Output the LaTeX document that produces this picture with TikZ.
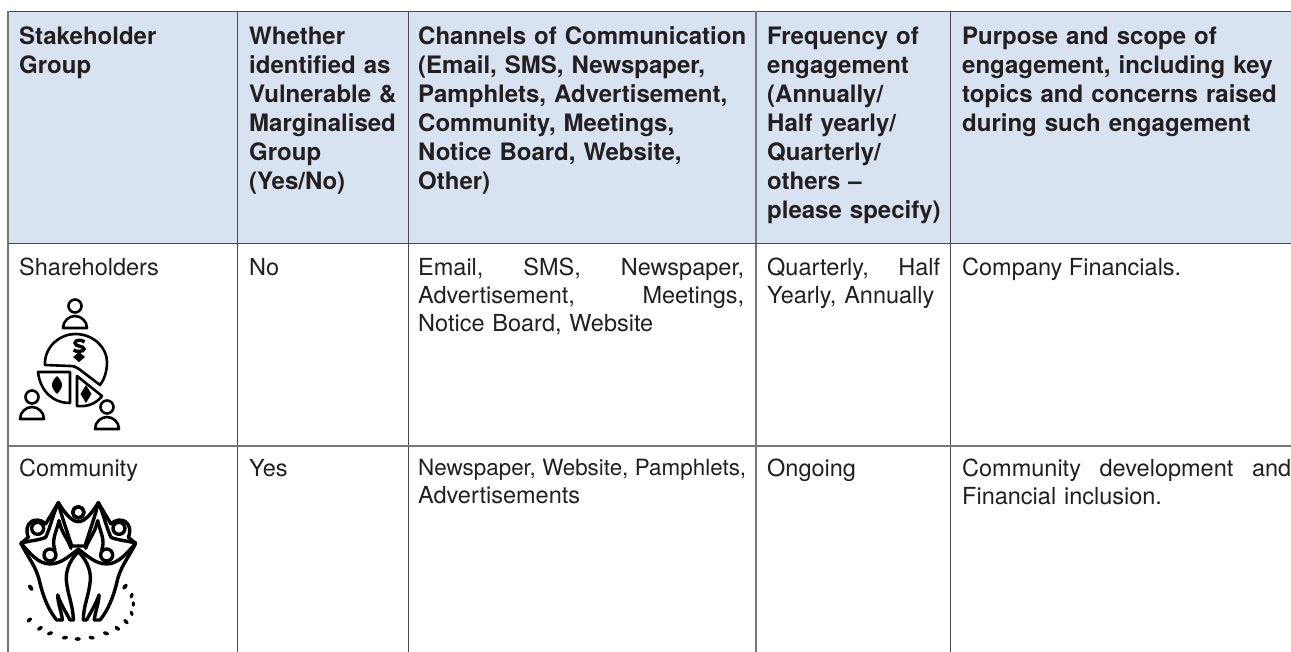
\documentclass[tikz,border=0pt]{standalone}
\usepackage{fontspec}
\setmainfont{TeX Gyre Heros}
\definecolor{hdr}{HTML}{D8E2F0}
\definecolor{ink}{HTML}{231F20}
\definecolor{ruled}{HTML}{4A4A4E}
\definecolor{ruleg}{HTML}{77777B}
\tikzset{
 x=1pt,y=-1pt,
 cell/.style={anchor=north west,inner sep=0pt,align=left,text=ink,font=\fontsize{23.5}{28}\selectfont},
 hd/.style={cell,font=\fontsize{24}{29}\selectfont\bfseries},
 rl/.style={draw=ruled,line width=0.9pt},
 rg/.style={draw=ruleg,line width=1.5pt},
 ic/.style={draw=black,line width=2.6pt,line cap=round,line join=round},
 icd/.style={fill=black}
}
\begin{document}
\begin{tikzpicture}
\useasboundingbox (0,0) rectangle (1291,652);
\fill[white] (0,0) rectangle (1291,652);
\fill[hdr] (8,11) rectangle (1291,243);
\draw[rl] (1291,11)--(8,11);
\draw[rg] (8,11)--(8,652);
\draw[rl] (237.5,11)--(237.5,652);
\draw[rl] (408,11)--(408,652);
\draw[rg] (756,11)--(756,652);
\draw[rl] (950,11)--(950,652);
\draw[rl] (8,243)--(1291,243);
\draw[rg] (8,446)--(1291,446);
\node[hd,text width=210pt] (h1) at (19,26.5) {Stakeholder\\Group};
\node[hd,text width=160pt] (h2) at (249,26.5) {Whether\\identified as\\Vulnerable \&\\Marginalised\\Group\\(Yes/No)};
\node[hd,text width=335pt] (h3) at (418,26.5) {Channels of Communication\\(Email, SMS, Newspaper,\\Pamphlets, Advertisement,\\Community, Meetings,\\Notice Board, Website,\\Other)};
\node[hd,text width=185pt] (h4) at (767,26.5) {Frequency of\\engagement\\(Annually/\\Half yearly/\\Quarterly/\\others --\\please specify)};
\node[hd,text width=329pt] (h5) at (962,26.5) {Purpose and scope of\\engagement, including key\\topics and concerns raised\\during such engagement};
\node[cell] (a1) at (19,258) {Shareholders};
\node[cell] (a2) at (249,258) {No};
\node[cell,text width=326pt] (a3) at (418,258) {Email,\hfill SMS,\hfill Newspaper,\\Advertisement,\hfill Meetings,\\Notice Board, Website};
\node[cell,text width=173pt] (a4) at (767,258) {Quarterly,\hfill Half\\Yearly, Annually};
\node[cell] (a5) at (962,258) {Company Financials.};
\node[cell] (b1) at (19,459) {Community};
\node[cell] (b2) at (249,459) {Yes};
\node[cell,text width=335pt] (b3) at (418,459) {\hbox to 328pt{\fontsize{22.4}{28}\selectfont Newspaper,\hfil Website,\hfil Pamphlets,}\\Advertisements};
\node[cell] (b4) at (767,459) {Ongoing};
\node[cell,text width=329pt] (b5) at (962,459) {Community\hfill development\hfill and\\Financial inclusion.};
% shareholders icon
\foreach \cx/\cy in {75/306,32/397,107/407}{
 \draw[ic] (\cx,\cy) circle (6.5);
 \draw[ic] (\cx-12,\cy+22) .. controls (\cx-12,\cy+15) and (\cx-6,\cy+10) .. (\cx,\cy+10) .. controls (\cx+6,\cy+10) and (\cx+12,\cy+15) .. (\cx+12,\cy+22) -- cycle;
}
\draw[ic] (45,365) .. controls (44,347) and (60,334) .. (75,334) .. controls (94,334) and (107,348) .. (107,362) .. controls (107,372) and (104,380) .. (100,385) -- (79,369) .. controls (76,367) and (74,366) .. (70,366) -- cycle;
\draw[ic] (38,372) -- (70,372) -- (70,403) .. controls (52,403) and (40,390) .. (38,372) -- cycle;
\draw[ic] (77,376) -- (102,396) .. controls (96,404) and (87,407) .. (77,406) -- cycle;
\fill[icd] (57,376) .. controls (60,379) and (62,382) .. (62,385) .. controls (62,388) and (60,391) .. (57,394) .. controls (54,391) and (52,388) .. (52,385) .. controls (52,382) and (54,379) .. (57,376) -- cycle;
\fill[icd] (86,385) -- (91.5,394) -- (86,403) -- (80.5,394) -- cycle;
\draw[black,line width=3.4pt,line cap=butt] (84.5,342) .. controls (82,339.5) and (75,339.5) .. (75,343) .. controls (75,347) and (84,345.5) .. (84,349) .. controls (84,352) and (76,352) .. (73.5,350);
\fill[icd] (79,352) -- (85,357) -- (79,362) -- (73,357) -- cycle;
% community icon
\begin{scope}[shift={(78.33,450)},x=0.3333pt,y=-0.3333pt]
\foreach \sg in {1,-1}{
\begin{scope}[xscale=\sg,ic,line width=3.4pt]
\draw (0,187) circle (17);
\draw (-122,235) circle (18);
\draw (-85,315) circle (18);
\draw (-60,158) .. controls (-40,190) and (-20,215) .. (0,215);
\draw (-60,158) .. controls (-50,200) and (-35,240) .. (-20,288) -- (0,288);
\draw (-58,212) .. controls (-65,245) and (-82,270) .. (-70,300);
\draw (-58,212) .. controls (-50,250) and (-32,265) .. (-22,295);
\draw (-172,280) .. controls (-150,272) and (-120,272) .. (-98,262) .. controls (-85,235) and (-75,190) .. (-60,158);
\draw (-150,262) .. controls (-158,240) and (-155,225) .. (-140,214) .. controls (-130,208) and (-110,208) .. (-98,222);
\draw (-172,280) -- (-150,262);
\draw (-60,158) -- (-98,222);
\draw (-172,280) .. controls (-145,310) and (-120,342) .. (-85,342) .. controls (-50,342) and (-25,315) .. (0,298);
\draw (-172,280) .. controls (-150,325) and (-125,350) .. (-115,400) .. controls (-105,440) and (-90,480) .. (-65,510) -- (-48,510);
\draw (-48,510) .. controls (-50,485) and (-62,460) .. (-62,435);
\draw (-62,435) .. controls (-52,465) and (-35,490) .. (-25,510);
\draw (0,305) .. controls (-30,335) and (-40,370) .. (-35,400) .. controls (-30,440) and (-15,470) .. (-15,510) -- (-25,510);
\end{scope}
}
\foreach \px/\py/\rr/\ang in {-147/510/15/40,-115/535/15/35,-85/550/15/20,-40/563/15/10,-2/567/15/0,40/563/15/-10,83/550/15/-20,117/535/15/-35,143/515/15/-45,160/490/13/-70,165/462/13/90,160/437/14/70,140/410/16/50,-143/413/17/-55}{
 \fill[black,rotate around={\ang:(\px,\py)}] (\px,\py) ellipse ({\rr*0.62} and {\rr*0.38});
}
\end{scope}
\end{tikzpicture}
\end{document}
